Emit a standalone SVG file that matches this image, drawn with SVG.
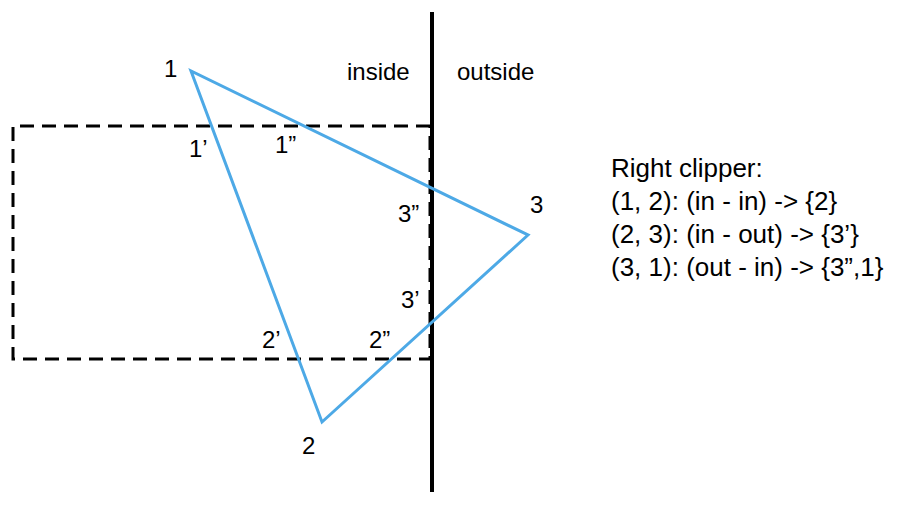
<svg xmlns="http://www.w3.org/2000/svg" width="918" height="506" viewBox="0 0 918 506">
<style>
text{font-family:"Liberation Sans",Arial,sans-serif;fill:#000}
.lbl{font-size:24px}
.info{font-size:26px}
</style>
<rect width="918" height="506" fill="#fff"/>
<g id="clip-rect">
<path d="M430,126 H13 V359 H430 V126" fill="none" stroke="#000" stroke-width="3" stroke-dasharray="14 8"/>
</g>
<g id="clip-line">
<line x1="432" y1="12" x2="432" y2="492" stroke="#000" stroke-width="4"/>
</g>
<g id="triangle">
<polygon points="191,71 322,422 528,235" fill="none" stroke="#4DA9E6" stroke-width="3" stroke-linejoin="miter"/>
</g>
<g id="labels">
<text class="lbl" x="164" y="77">1</text>
<text class="lbl" x="189" y="157">1’</text>
<text class="lbl" x="275" y="153">1”</text>
<text class="lbl" x="347" y="80">inside</text>
<text class="lbl" x="457" y="80">outside</text>
<text class="lbl" x="530" y="213">3</text>
<text class="lbl" x="398" y="222">3”</text>
<text class="lbl" x="401" y="308">3’</text>
<text class="lbl" x="262" y="348">2’</text>
<text class="lbl" x="369" y="348">2”</text>
<text class="lbl" x="302" y="454">2</text>
</g>
<g id="rules">
<text class="info" x="611" y="177">Right clipper:</text>
<text class="info" x="611" y="210">(1, 2): (in - in) -&gt; {2}</text>
<text class="info" x="611" y="243">(2, 3): (in - out) -&gt; {3’}</text>
<text class="info" x="611" y="276">(3, 1): (out - in) -&gt; {3”,1}</text>
</g>
</svg>
